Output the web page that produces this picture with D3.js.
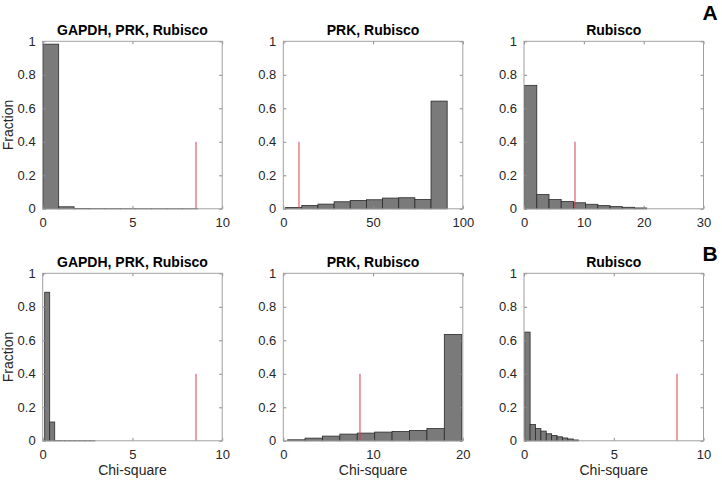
<!DOCTYPE html>
<html>
<head>
<meta charset="utf-8">
<script src="https://cdn.jsdelivr.net/npm/d3@7"></script>
<style>
  body { margin: 0; background: #fff; }
  text { font-family: "Liberation Sans", Arial, sans-serif; }
</style>
</head>
<body>
<div id="chart"></div>
<script>
// panel titles
var titles = ["GAPDH, PRK, Rubisco", "PRK, Rubisco", "Rubisco",
              "GAPDH, PRK, Rubisco", "PRK, Rubisco", "Rubisco"];

// x range of each panel
var xMax = [10, 100, 30, 10, 20, 10];
var xTicks = [[0, 5, 10], [0, 50, 100], [0, 10, 20, 30],
              [0, 5, 10], [0, 10, 20], [0, 5, 10]];
var yTicks = [0, 0.2, 0.4, 0.6, 0.8, 1];

// histogram bin edges
var edges = [
  [0.03, 0.89, 1.75, 2.61, 3.47, 4.33, 5.19, 6.05, 6.91, 7.77, 8.63],
  [1.3, 10.3, 19.3, 28.3, 37.3, 46.3, 55.3, 64.3, 73.3, 82.3, 91.3],
  [0.1, 2.14, 4.18, 6.22, 8.26, 10.3, 12.34, 14.38, 16.42, 18.46, 20.5],
  [0.11, 0.39, 0.67, 0.95, 1.23, 1.51, 1.79, 2.07, 2.35, 2.63, 2.91],
  [0.48, 2.42, 4.36, 6.3, 8.24, 10.18, 12.12, 14.06, 16.0, 17.94, 19.88],
  [0.04, 0.34, 0.64, 0.94, 1.24, 1.54, 1.84, 2.14, 2.44, 2.74, 3.04]
];

// fraction in each bin
var fractions = [
  [0.983, 0.012, 0.002, 0.001, 0.0008, 0.0005, 0.0004, 0.0003, 0.0002, 0.0001],
  [0.008, 0.02, 0.028, 0.042, 0.05, 0.054, 0.064, 0.066, 0.056, 0.643],
  [0.737, 0.085, 0.055, 0.043, 0.036, 0.027, 0.019, 0.013, 0.009, 0.005],
  [0.887, 0.112, 0.001, 0.0005, 0.0003, 0.0002, 0.0001, 0.0001, 0.0001, 0.0001],
  [0.006, 0.016, 0.028, 0.04, 0.046, 0.052, 0.056, 0.062, 0.073, 0.635],
  [0.649, 0.097, 0.073, 0.058, 0.042, 0.032, 0.024, 0.017, 0.011, 0.005]
];

// critical chi-square value (red line) and its drawn height
var critValue = 8.55;
var critHeight = 0.4;

var W = 722, H = 480;
var lefts = [42.7, 283.3, 524];
var tops = [41.3, 273.3];
var pw = 179.5, ph = 167.5;

var svg = d3.select("#chart").append("svg")
    .attr("width", W)
    .attr("height", H);

titles.forEach(function(title, i) {
  var col = i % 3, row = Math.floor(i / 3);
  var g = svg.append("g")
      .attr("transform", "translate(" + lefts[col] + "," + tops[row] + ")");

  var x = d3.scaleLinear().domain([0, xMax[i]]).range([0, pw]);
  var y = d3.scaleLinear().domain([0, 1]).range([ph, 0]);

  // bars
  var bins = fractions[i].map(function(f, k) {
    return {x0: edges[i][k], x1: edges[i][k + 1], f: f};
  });
  g.selectAll("rect.bar")
      .data(bins)
      .enter()
      .append("rect")
        .attr("class", "bar")
        .attr("x", function(d) { return x(d.x0); })
        .attr("y", function(d) { return y(d.f); })
        .attr("width", function(d) { return x(d.x1) - x(d.x0); })
        .attr("height", function(d) { return ph - y(d.f); })
        .style("fill", "#7a7a7a")
        .style("stroke", "#2b2b2b")
        .style("stroke-width", 0.8);

  // red line, on a pixel boundary so it blends soft like the reference
  var cx = Math.round(lefts[col] + x(critValue)) - lefts[col];
  g.append("line")
      .attr("x1", cx).attr("x2", cx)
      .attr("y1", y(0)).attr("y2", y(critHeight))
      .style("stroke", "#e03c4a")
      .style("stroke-width", 1);

  // axes, MATLAB style ticks pointing inward on all sides
  var ax = function(axis) {
    return axis.tickSizeInner(-3).tickSizeOuter(0).tickPadding(7);
  };
  var bottom = g.append("g").attr("transform", "translate(0," + ph + ")")
      .call(ax(d3.axisBottom(x).tickValues(xTicks[i]).tickFormat(d3.format("d"))));
  var left = g.append("g")
      .call(ax(d3.axisLeft(y).tickValues(yTicks).tickFormat(function(d) { return d; })));
  var topAx = g.append("g")
      .call(d3.axisTop(x).tickValues(xTicks[i]).tickSizeInner(-3).tickSizeOuter(0).tickFormat(""));
  var rightAx = g.append("g").attr("transform", "translate(" + pw + ",0)")
      .call(d3.axisRight(y).tickValues(yTicks).tickSizeInner(-3).tickSizeOuter(0).tickFormat(""));

  [bottom, left, topAx, rightAx].forEach(function(a) {
    a.select(".domain").remove();
    a.selectAll("line").style("stroke", "#8a8a8a");
    a.selectAll("text")
        .style("font-size", "13px")
        .style("fill", "#262626")
        .style("font-family", "'Liberation Sans', Arial, sans-serif");
  });
  bottom.selectAll("text").attr("dy", "0.85em");

  // box
  g.append("rect")
      .attr("width", pw).attr("height", ph)
      .style("fill", "none")
      .style("stroke", "#a0a0a0")
      .style("stroke-width", 1);

  // title
  g.append("text")
      .attr("x", pw / 2)
      .attr("y", -6)
      .attr("text-anchor", "middle")
      .style("font-size", "14px")
      .style("font-weight", "bold")
      .text(title);

  if (col === 0) {
    g.append("text")
        .attr("transform", "translate(" + (-29.5) + "," + (ph / 2) + ") rotate(-90)")
        .attr("text-anchor", "middle")
        .style("font-size", "14px")
        .style("fill", "#262626")
        .text("Fraction");
  }
  if (row === 1) {
    g.append("text")
        .attr("x", pw / 2)
        .attr("y", ph + 34)
        .attr("text-anchor", "middle")
        .style("font-size", "14px")
        .style("fill", "#262626")
        .text("Chi-square");
  }
});

// panel letters
svg.append("text").attr("x", 710).attr("y", 20)
    .attr("text-anchor", "middle")
    .style("font-size", "21px").style("font-weight", "bold")
    .text("A");
svg.append("text").attr("x", 710).attr("y", 261)
    .attr("text-anchor", "middle")
    .style("font-size", "21px").style("font-weight", "bold")
    .text("B");
</script>
</body>
</html>
